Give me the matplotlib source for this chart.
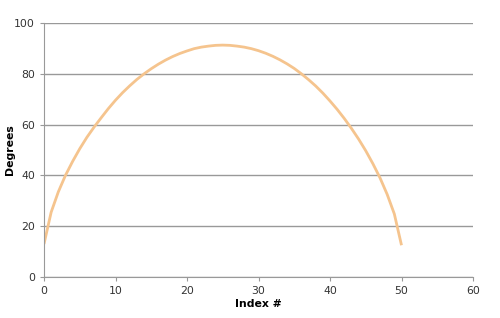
import matplotlib
matplotlib.use("Agg")
import matplotlib.pyplot as plt
import numpy as np

plt.rcParams['font.family'] = "DejaVu Sans"
plt.rcParams['font.size'] = 7.8

index = np.arange(0, 51)
degrees = [13.0, 25.5, 33.5, 40.0, 45.5, 50.5, 55.0, 59.0, 62.7, 66.3,
           69.6, 72.6, 75.3, 77.8, 80.0, 82.0, 83.8, 85.4, 86.8, 88.0,
           89.0, 89.9, 90.5, 90.9, 91.2, 91.3, 91.2, 90.9, 90.5, 89.9,
           89.1, 88.1, 86.9, 85.5, 83.9, 82.1, 80.0, 77.7, 75.2, 72.4,
           69.3, 66.0, 62.4, 58.5, 54.3, 49.7, 44.6, 39.0, 32.5, 24.8, 12.5]

xticks = [0, 10, 20, 30, 40, 50, 60]
yticks = [0, 20, 40, 60, 80, 100]

fig = plt.figure(figsize=(5.0, 3.18), dpi=100)
ax = fig.add_axes([44/500, 1 - 277/318, 429/500, 254/318])

ax.plot(index, degrees, '-', color="#F5C48E", lw=2.0, solid_capstyle="butt")

ax.set_xlim(0, 60)
ax.set_ylim(0, 100)
ax.set_xticks(xticks)
ax.set_yticks(yticks)

ax.grid(axis="y", color="#999999", lw=1.0)
ax.set_axisbelow(True)
for s in ["top", "right"]:
    ax.spines[s].set_visible(False)
for s in ["left", "bottom"]:
    ax.spines[s].set_color("#999999")
ax.tick_params(direction="out", length=3, color="#999999", labelcolor="#333333")

ax.set_xlabel("Index #", fontweight="bold", labelpad=2)
ax.set_ylabel("Degrees", fontweight="bold")
ax.yaxis.set_label_coords(-29/429, 0.5)

fig.savefig("out.png", dpi=100)
